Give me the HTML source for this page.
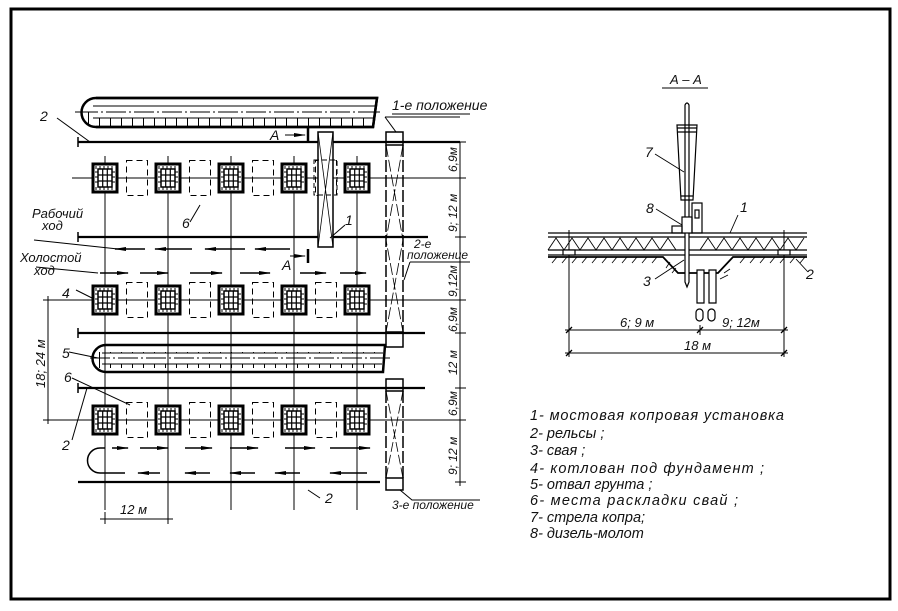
<!DOCTYPE html>
<html><head><meta charset="utf-8"><style>
html,body{margin:0;padding:0;background:#fff}
svg{display:block}
text{font-family:"Liberation Sans",sans-serif;font-style:italic;fill:#111}
</style></head><body>
<svg width="898" height="611" viewBox="0 0 898 611" xmlns="http://www.w3.org/2000/svg">
<defs>
<g id="pit">
<rect x="-12" y="-14" width="24" height="28" fill="#fff" stroke="#000" stroke-width="3"/>
<rect x="-7" y="-9" width="14" height="18" fill="none" stroke="#000" stroke-width="1.5"/>
<path d="M-2.3 -9V9M2.3 -9V9M-7 -3H7M-7 3H7" stroke="#000" stroke-width="1.2"/>
<path d="M-9 -12V-9M-5 -12V-9M-1 -12V-9M3 -12V-9M7 -12V-9M-9 12V9M-5 12V9M-1 12V9M3 12V9M7 12V9M-10 -6H-7M-10 -1H-7M-10 4H-7M10 -6H7M10 -1H7M10 4H7" stroke="#000" stroke-width="1"/>
</g>
<rect id="dr" x="-10.5" y="-17.5" width="21" height="35" fill="none" stroke="#000" stroke-width="1" stroke-dasharray="6,4"/>
<pattern id="tk" width="11" height="30" patternUnits="userSpaceOnUse">
<path d="M0.5 0V8M0.5 22V30" stroke="#000" stroke-width="1"/>
</pattern>
<marker id="ah" markerWidth="12" markerHeight="6" refX="11" refY="3" orient="auto" markerUnits="userSpaceOnUse">
<path d="M0 1L12 3L0 5Z" fill="#000"/>
</marker>
<marker id="tk2" markerWidth="8" markerHeight="8" refX="4" refY="4" orient="auto" markerUnits="userSpaceOnUse">
<path d="M1 7L7 1" stroke="#000" stroke-width="1.2"/>
</marker>
</defs>

<!-- frame -->
<rect x="11" y="9" width="879" height="590" fill="none" stroke="#000" stroke-width="3"/>

<!-- top spoil heap -->
<g stroke="#000" fill="none">
<path d="M96 98H377L373 127H96A14.5 14.5 0 0 1 96 98Z" stroke-width="2.5" fill="url(#tk)"/>
<path d="M96 98H377L373 127H96" stroke-width="2.5" transform="translate(0,0)" />
<path d="M93 106H375M93 118H374" stroke-width="1"/>
<path d="M75 112H380" stroke-width="1" stroke-dasharray="20,3,2,3"/>
</g>
<rect x="97" y="106" width="276" height="12" fill="#fff"/>
<path d="M78 112H380" stroke="#000" stroke-width="1" stroke-dasharray="20,3,2,3"/>
<path d="M93 106H375M93 118H374" stroke="#000" stroke-width="1"/>

<!-- spoil heap 5 -->
<path d="M106 345H385L383 372H106A13.5 13.5 0 0 1 106 345Z" stroke="#000" stroke-width="2.5" fill="url(#tk)"/>
<rect x="104" y="353" width="278" height="11" fill="#fff"/>
<path d="M102 353H383M102 364H382" stroke="#000" stroke-width="1"/>
<path d="M90 358H393" stroke="#000" stroke-width="1" stroke-dasharray="20,3,2,3"/>

<!-- rails -->
<g stroke="#000" stroke-width="2.2">
<path d="M78 142H460M78 237H428M78 333H425M78 388H425M78 482H380"/>
<path d="M78 137V147M78 232V242M78 328V338M78 383V393" stroke-width="1.5"/>
</g>

<!-- grid lines -->
<g stroke="#000" stroke-width="1">
<path d="M105 156V510M168 156V520M231 156V510M294 156V510M357 156V510"/>
<path d="M72 178H466M45 300H466M45 420H466"/>
<path d="M460 142V486M48 296V424" />
<path d="M455 142H466M455 178H466M455 237H466M455 300H466M455 333H466M455 388H466M455 420H466M455 482H466" />
<path d="M43 300H53M43 420H53"/>
<path d="M100 519H173M105 512V524M168 512V524"/>
</g>

<!-- pits -->
<g>
<use href="#pit" x="105" y="178"/><use href="#pit" x="168" y="178"/><use href="#pit" x="231" y="178"/><use href="#pit" x="294" y="178"/><use href="#pit" x="357" y="178"/>
<use href="#pit" x="105" y="300"/><use href="#pit" x="168" y="300"/><use href="#pit" x="231" y="300"/><use href="#pit" x="294" y="300"/><use href="#pit" x="357" y="300"/>
<use href="#pit" x="105" y="420"/><use href="#pit" x="168" y="420"/><use href="#pit" x="231" y="420"/><use href="#pit" x="294" y="420"/><use href="#pit" x="357" y="420"/>
<use href="#dr" x="137" y="178"/><use href="#dr" x="200" y="178"/><use href="#dr" x="263" y="178"/><use href="#dr" x="326" y="178"/>
<use href="#dr" x="137" y="300"/><use href="#dr" x="200" y="300"/><use href="#dr" x="263" y="300"/><use href="#dr" x="326" y="300"/>
<use href="#dr" x="137" y="420"/><use href="#dr" x="200" y="420"/><use href="#dr" x="263" y="420"/><use href="#dr" x="326" y="420"/>
</g>

<!-- bridge position 1 -->
<g stroke="#000" fill="none">
<rect x="318" y="132" width="15" height="115" fill="#fff" stroke-width="1.5"/>
<rect x="314" y="160" width="23" height="35" stroke-width="1" stroke-dasharray="5,3"/>
<path d="M318 132L333 247M333 132L318 247" stroke-width="0.8"/>
<!-- 1st position dashed -->
<rect x="386" y="132" width="17" height="13" stroke-width="1.5"/>
<rect x="386" y="332" width="17" height="15" stroke-width="1.5"/>
<path d="M386 145V332M403 145V332" stroke-width="1.5" stroke-dasharray="12,3"/>
<path d="M386 145L403 240L386 332M403 145L386 240L403 332" stroke-width="0.8" stroke-dasharray="12,3"/>
<!-- 3rd -->
<rect x="386" y="379" width="17" height="12" stroke-width="1.5"/>
<rect x="386" y="478" width="17" height="12" stroke-width="1.5"/>
<path d="M386 391V478M403 391V478" stroke-width="1.5" stroke-dasharray="12,3"/>
<path d="M386 391L403 478M403 391L386 478" stroke-width="0.8" stroke-dasharray="10,3"/>
</g>

<!-- section marks -->
<g stroke="#000">
<path d="M285 135H305" stroke-width="1" marker-end="url(#ah)"/>
<path d="M308 128V142" stroke-width="2.5"/>
<path d="M290 256H305" stroke-width="1" marker-end="url(#ah)"/>
<path d="M308 249V263" stroke-width="2.5"/>
</g>
<text x="270" y="140" font-size="14">А</text>
<text x="282" y="270" font-size="14">А</text>

<!-- arrows -->
<g stroke="#000" stroke-width="1.5" fill="none">
<path d="M145 249H115" marker-end="url(#ah)"/><path d="M192 249H155" marker-end="url(#ah)"/><path d="M245 249H205" marker-end="url(#ah)"/><path d="M290 249H255" marker-end="url(#ah)"/>
<path d="M100 273H128" marker-end="url(#ah)"/><path d="M140 273H168" marker-end="url(#ah)"/><path d="M190 273H222" marker-end="url(#ah)"/><path d="M240 273H270" marker-end="url(#ah)"/><path d="M300 273H326" marker-end="url(#ah)"/><path d="M340 273H366" marker-end="url(#ah)"/>
<path d="M112 448H128" marker-end="url(#ah)"/><path d="M140 448H168" marker-end="url(#ah)"/><path d="M185 448H212" marker-end="url(#ah)"/><path d="M230 448H258" marker-end="url(#ah)"/><path d="M285 448H315" marker-end="url(#ah)"/><path d="M330 448H370" marker-end="url(#ah)"/>
<path d="M160 473H138" marker-end="url(#ah)"/><path d="M210 473H185" marker-end="url(#ah)"/><path d="M255 473H230" marker-end="url(#ah)"/><path d="M300 473H275" marker-end="url(#ah)"/><path d="M367 473H330" marker-end="url(#ah)"/>
<path d="M105 448H100A12.5 12.5 0 0 0 100 473H125"/>
</g>

<!-- leaders -->
<g stroke="#000" stroke-width="1" fill="none">
<path d="M57 118L90 142"/>
<path d="M385 117H460M385 117L396 132"/>
<path d="M410 262H470M410 262L404 280"/>
<path d="M400 490L412 500H480"/>
<path d="M330 238L345 225"/>
<path d="M200 205L190 222"/>
<path d="M34 240L118 249"/>
<path d="M36 267L98 273"/>
<path d="M76 290L92 298"/>
<path d="M69 352L98 358"/>
<path d="M72 378L130 405"/>
<path d="M72 440L87 388"/>
<path d="M308 490L320 498"/>
</g>

<!-- plan labels -->
<g font-size="14">
<text x="40" y="121">2</text>
<text x="392" y="110">1-е положение</text>
<path d="M392 114H470" stroke="#000" stroke-width="1"/>
<text x="345" y="225">1</text>
<text x="182" y="228">6</text>
<text x="32" y="218" font-size="13">Рабочий</text>
<text x="42" y="230" font-size="13">ход</text>
<text x="20" y="262" font-size="13">Холостой</text>
<text x="34" y="275" font-size="13">ход</text>
<text x="414" y="248" font-size="12">2-е</text>
<text x="407" y="259" font-size="12">положение</text>
<text x="62" y="298">4</text>
<text x="62" y="358">5</text>
<text x="64" y="382">6</text>
<text x="62" y="450">2</text>
<text x="325" y="503">2</text>
<text x="392" y="509" font-size="12">3-е положение</text>
<text x="120" y="514" font-size="13">12 м</text>
</g>
<g font-size="12">
<text transform="translate(457,172) rotate(-90)">6,9м</text>
<text transform="translate(457,232) rotate(-90)">9; 12 м</text>
<text transform="translate(457,297) rotate(-90)">9,12м</text>
<text transform="translate(457,332) rotate(-90)">6,9м</text>
<text transform="translate(457,375) rotate(-90)">12 м</text>
<text transform="translate(457,416) rotate(-90)">6,9м</text>
<text transform="translate(457,475) rotate(-90)">9; 12 м</text>
<text transform="translate(45,388) rotate(-90)" font-size="13">18; 24 м</text>
</g>

<!-- Section A-A -->
<text x="670" y="84" font-size="13">А – А</text>
<path d="M662 88H708" stroke="#000" stroke-width="1"/>
<g stroke="#000" fill="none" stroke-width="1.2">
<!-- truss -->
<path d="M548 233H807M548 237H807M548 250H807M548 255H807"/>
<path d="M548 250L556 238L564 250L572 238L580 250L588 238L596 250L604 238L612 250L620 238L628 250L636 238L644 250L652 238L660 250L668 238L676 250M700 250L708 238L716 250L724 238L732 250L740 238L748 250L756 238L764 250L772 238L780 250L788 238L796 250L804 238" stroke-width="0.9"/>
<path d="M569 233V330M784 233V330M569 230V236M784 230V236" stroke-width="1"/>
<rect x="563" y="250" width="12" height="5" fill="#fff"/><rect x="778" y="250" width="12" height="5" fill="#fff"/>
<!-- ground -->
<path d="M548 257H663L678 273H718L733 257H807" stroke-width="1.8"/>
<path d="M552 263l5 -6M562 263l5 -6M572 263l5 -6M582 263l5 -6M592 263l5 -6M602 263l5 -6M612 263l5 -6M622 263l5 -6M632 263l5 -6M642 263l5 -6M652 263l5 -6M666 268l4 -6M672 273l4 -5M740 263l5 -6M750 263l5 -6M760 263l5 -6M770 263l5 -6M780 263l5 -6M790 263l5 -6M800 263l5 -6M724 273l6 -4M720 279l8 -4" stroke-width="0.8"/>
<!-- mast and boom -->
<path d="M685 105V282L687 287L689 282V105Q687 101 685 105Z" fill="#fff"/>
<path d="M677 125H697L693 200H681Z"/>
<path d="M677 128H697M678 132H696M681 196H693"/>
<rect x="682" y="217" width="10" height="16" fill="#fff"/>
<rect x="692" y="203" width="10" height="30"/>
<rect x="695" y="210" width="4" height="8"/>
<rect x="672" y="226" width="10" height="7"/>
<!-- piles -->
<path d="M697 270V303H704V270ZM709 270V303H716V270Z" fill="#fff"/>
<rect x="696" y="309" width="7" height="12" rx="3.5"/><rect x="708" y="309" width="7" height="12" rx="3.5"/>
<!-- dims -->
<path d="M565 330H788M565 353H788M700 325V335M569 326V357M784 326V357" stroke-width="1"/>
<path d="M566 333l6 -6M781 333l6 -6M697 333l6 -6M566 356l6 -6M781 356l6 -6" stroke-width="1.3"/>
<!-- leaders -->
<path d="M655 154L684 172M656 209L682 225M738 215L730 233M655 279L684 260M808 272L796 259" stroke-width="0.9"/>
</g>
<g font-size="14">
<text x="645" y="157">7</text>
<text x="646" y="213">8</text>
<text x="740" y="212">1</text>
<text x="643" y="286">3</text>
<text x="806" y="279">2</text>
<text x="620" y="327" font-size="13">6; 9 м</text>
<text x="722" y="327" font-size="13">9; 12м</text>
<text x="684" y="350" font-size="13">18 м</text>
</g>

<!-- legend -->
<g font-size="14.5">
<text x="530" y="420" textLength="254">1- мостовая копровая установка</text>
<text x="530" y="438">2- рельсы ;</text>
<text x="530" y="455">3- свая ;</text>
<text x="530" y="473" textLength="234">4- котлован под фундамент ;</text>
<text x="530" y="489">5- отвал грунта ;</text>
<text x="530" y="505" textLength="208">6- места раскладки свай ;</text>
<text x="530" y="522">7- стрела копра;</text>
<text x="530" y="538">8- дизель-молот</text>
</g>
</svg>
</body></html>
